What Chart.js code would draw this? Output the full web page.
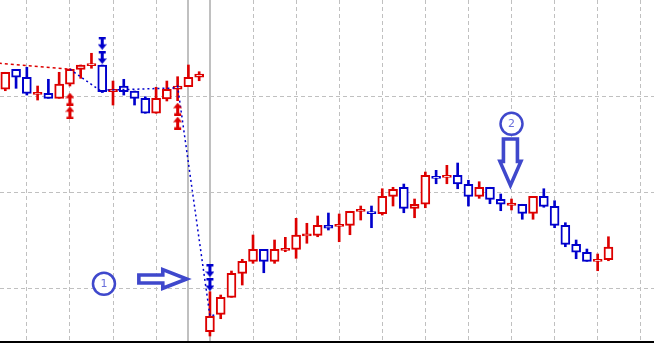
<!DOCTYPE html>
<html>
<head>
<meta charset="utf-8">
<script src="https://cdn.jsdelivr.net/npm/chart.js@4"></script>
<style>
  html, body { margin: 0; padding: 0; background: #fff; }
  #wrap { width: 654px; height: 343px; }
</style>
</head>
<body>
<div id="wrap"><canvas id="myChart" width="654" height="343"></canvas></div>
<script>
// candles, one per bar index
var opens = [307.0, 327.8, 319.5, 302.8, 302.8, 297.6, 312.2, 327.8, 332.6, 332.3,
  304.5, 310.4, 305.2, 297.6, 282.0, 296.9, 307.0, 309.7, 319.5, 54.5,
  72.6, 90.3, 115.3, 127.8, 140.3, 127.8, 140.3, 140.3, 155.2, 154.9,
  165.3, 165.3, 165.3, 180.7, 179.5, 177.4, 195.5, 204.9, 183.0, 187.2,
  215.3, 215.3, 217.4, 208.0, 195.5, 204.9, 192.4, 187.2, 187.2, 177.8,
  195.5, 185.1, 165.3, 145.5, 137.2, 127.8, 129.5];
var highs = [324.7, 327.8, 329.9, 310.4, 317.4, 324.7, 328.5, 332.3, 344.5, 332.3,
  315.6, 317.4, 305.2, 299.3, 309.1, 315.6, 320.1, 332.3, 325.3, 96.1,
  92.7, 117.7, 129.9, 155.2, 140.3, 150.0, 152.8, 172.6, 167.4, 175.0,
  178.1, 177.1, 179.9, 185.4, 185.4, 203.4, 204.9, 208.3, 192.7, 220.8,
  222.6, 227.8, 230.2, 212.2, 210.7, 204.9, 197.9, 192.7, 187.2, 195.5,
  203.4, 190.9, 168.0, 150.0, 140.6, 135.4, 153.4];
var lows = [305.5, 308.0, 301.0, 295.8, 297.6, 297.6, 310.4, 318.4, 328.9, 303.6,
  290.6, 301.0, 290.6, 282.0, 282.0, 294.8, 295.1, 309.7, 315.9, 50.0,
  68.0, 90.3, 103.1, 125.7, 115.9, 125.7, 137.8, 130.9, 146.6, 153.4,
  160.4, 148.2, 155.5, 170.8, 162.8, 176.0, 185.4, 178.4, 173.2, 183.6,
  208.6, 208.6, 203.4, 185.4, 193.4, 187.8, 180.5, 181.3, 171.6, 171.6,
  184.1, 162.8, 143.0, 130.5, 127.8, 118.0, 128.4];
var closes = [324.7, 319.5, 302.8, 302.9, 297.6, 312.5, 327.8, 332.3, 332.7, 304.5,
  307.0, 304.5, 297.6, 282.0, 297.6, 307.0, 310.4, 319.5, 322.9, 70.5,
  90.3, 115.3, 127.8, 140.3, 127.8, 140.3, 140.4, 155.2, 155.3, 165.3,
  162.2, 165.4, 179.9, 180.8, 177.4, 195.5, 202.8, 183.0, 187.2, 217.4,
  215.2, 217.4, 208.3, 195.5, 204.9, 192.4, 187.2, 187.3, 177.8, 195.5,
  185.1, 165.3, 145.5, 137.2, 127.8, 129.9, 142.7];

// grid
var xGrid = [2, 6, 10, 14, 23, 27, 31, 35, 39, 43, 47, 51, 55, 59];
var separators = [17, 19];
var yGrid = [100, 200, 300];

// zigzag lines
var zigRed = [[-0.6, 334.1], [6, 327.8]];
var zigBlue = [[6, 327.8], [9, 304.2], [9.5, 306.2], [15.6, 308.3], [16, 310.1], [19, 70.8], [19.6, 72.4]];

// signal arrows
var upMarks = [[6, 296.7], [6, 282.5], [16, 286.3], [16, 271.7]];
var downMarks = [[9, 354.9], [9, 340.1], [19, 118.2], [19, 103.6]];

// hand drawn notes
var notes = [['1', 9.16, 104.4], ['2', 47.0, 271.0]];
var bigArrows = [
  { from: [12.4, 109.4], to: [16.85, 109.4], shaft: 4, head: 9.3, headLen: 24 },
  { from: [46.9, 255.2], to: [46.9, 206.9], shaft: 7, head: 10.5, headLen: 24 }
];

var RED = '#dd0000', BLUE = '#0000cc', NOTE = '#3f48cc';

var colors = opens.map(function (o, i) { return closes[i] >= o ? RED : BLUE; });
var wicks = opens.map(function (o, i) { return { x: i, y: [lows[i], highs[i]] }; });
var bodies = opens.map(function (o, i) {
  var lo = Math.min(o, closes[i]), hi = Math.max(o, closes[i]);
  if (hi - lo < 2.2) { var m = (hi + lo) / 2; lo = m - 1.1; hi = m + 1.1; }
  return { x: i, y: [lo, hi] };
});
function pts(a) { return a.map(function (p) { return { x: p[0], y: p[1] }; }); }

function markImage(color, up) {
  var c = document.createElement('canvas');
  c.width = 9; c.height = 13;
  var g = c.getContext('2d');
  g.fillStyle = color;
  if (!up) { g.translate(0, 13); g.scale(1, -1); }
  g.beginPath();
  g.moveTo(4.5, 0); g.lineTo(9, 5.5); g.lineTo(0, 5.5); g.closePath(); g.fill();
  g.fillRect(3, 5, 3, 6);
  g.fillRect(1, 10.5, 7, 2.5);
  return c;
}

var isSep = function (ctx) { return ctx.tick && separators.indexOf(ctx.tick.value) >= 0; };

var notesPlugin = {
  id: 'notes',
  afterDatasetsDraw: function (chart) {
    var c = chart.ctx, xs = chart.scales.x, ys = chart.scales.y;
    c.save();
    c.strokeStyle = NOTE;
    c.lineJoin = 'miter';
    bigArrows.forEach(function (a) {
      var x0 = xs.getPixelForValue(a.from[0]), y0 = ys.getPixelForValue(a.from[1]);
      var x1 = xs.getPixelForValue(a.to[0]), y1 = ys.getPixelForValue(a.to[1]);
      var dx = x1 - x0, dy = y1 - y0, L = Math.sqrt(dx * dx + dy * dy);
      var ux = dx / L, uy = dy / L, px = -uy, py = ux;
      var bx = x1 - ux * a.headLen, by = y1 - uy * a.headLen;
      c.beginPath();
      c.moveTo(x0 + px * a.shaft, y0 + py * a.shaft);
      c.lineTo(bx + px * a.shaft, by + py * a.shaft);
      c.lineTo(bx + px * a.head, by + py * a.head);
      c.lineTo(x1, y1);
      c.lineTo(bx - px * a.head, by - py * a.head);
      c.lineTo(bx - px * a.shaft, by - py * a.shaft);
      c.lineTo(x0 - px * a.shaft, y0 - py * a.shaft);
      c.closePath();
      c.fillStyle = '#fff';
      c.fill();
      c.lineWidth = 3.6;
      c.stroke();
    });
    notes.forEach(function (n) {
      var x = xs.getPixelForValue(n[1]), y = ys.getPixelForValue(n[2]);
      c.beginPath();
      c.arc(x, y, 11, 0, Math.PI * 2);
      c.fillStyle = '#fff';
      c.fill();
      c.lineWidth = 2.5;
      c.stroke();
      c.fillStyle = '#6a70dc';
      c.font = '11px "DejaVu Sans"';
      c.textAlign = 'center';
      c.textBaseline = 'middle';
      c.fillText(n[0], x, y + 0.5);
    });
    c.restore();
  }
};

var ctx = document.getElementById('myChart').getContext('2d');
var myChart = new Chart(ctx, {
  type: 'bar',
  data: {
    datasets: [
      { type: 'bar', data: wicks, backgroundColor: colors, borderWidth: 0,
        barThickness: 2, grouped: false, order: 3 },
      { type: 'bar', data: bodies, backgroundColor: '#fff', borderColor: colors,
        borderWidth: 2, borderSkipped: false, barThickness: 9, grouped: false, order: 2 },
      { type: 'line', data: pts(zigRed), borderColor: RED, borderWidth: 1.5,
        borderDash: [3, 3], pointRadius: 0, tension: 0, order: 1 },
      { type: 'line', data: pts(zigBlue), borderColor: BLUE, borderWidth: 1.5,
        borderDash: [2, 3], pointRadius: 0, tension: 0, order: 1 },
      { type: 'line', data: pts(upMarks), showLine: false,
        pointStyle: markImage(RED, true), order: 0 },
      { type: 'line', data: pts(downMarks), showLine: false,
        pointStyle: markImage(BLUE, false), order: 0 }
    ]
  },
  options: {
    responsive: false,
    animation: false,
    layout: { autoPadding: false, padding: { bottom: 1 } },
    plugins: { legend: { display: false }, tooltip: { enabled: false } },
    scales: {
      x: {
        type: 'linear', min: -0.492, max: 60.23, offset: false,
        afterBuildTicks: function (s) {
          s.ticks = xGrid.concat(separators).map(function (v) { return { value: v }; });
        },
        ticks: { display: false },
        grid: {
          offset: false, drawTicks: false,
          color: '#c0c0c0',
          lineWidth: function (c) { return isSep(c) ? 2 : 1; }
        },
        border: {
          display: true, color: '#000', width: 2,
          dash: function (c) { return isSep(c) ? [] : [4, 3]; }
        }
      },
      y: {
        min: 43.75, max: 400,
        afterBuildTicks: function (s) {
          s.ticks = yGrid.map(function (v) { return { value: v }; });
        },
        ticks: { display: false },
        grid: { drawTicks: false, color: '#c0c0c0', lineWidth: 1 },
        border: { display: false, dash: [4, 3] }
      }
    }
  },
  plugins: [notesPlugin]
});
</script>
</body>
</html>
